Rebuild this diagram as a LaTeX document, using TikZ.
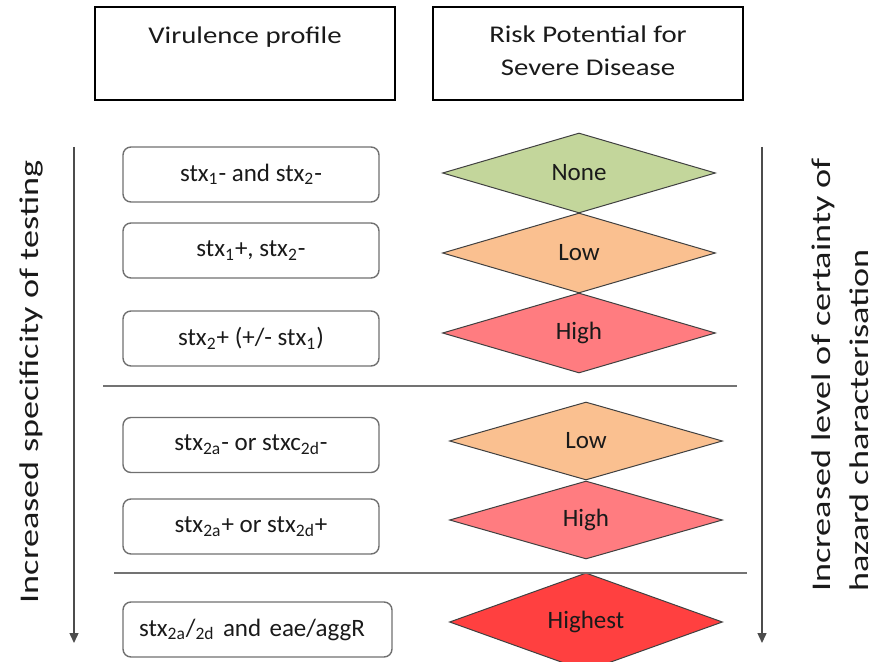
\documentclass[tikz,border=0pt]{standalone}
\usepackage{fontspec}
\setmainfont{Carlito}
\newfontfamily\hdrfont[FakeStretch=1.2]{Carlito}
\newfontfamily\sidefont[FakeStretch=1.34]{Carlito}
\usetikzlibrary{arrows.meta,shapes.geometric}
\definecolor{NoneGreen}{HTML}{C3D69B}
\definecolor{LowOrange}{HTML}{FAC090}
\definecolor{HighPink}{HTML}{FF7C80}
\definecolor{TopRed}{HTML}{FF4040}
\definecolor{EdgeGrey}{HTML}{707070}
\definecolor{TextDark}{HTML}{1A1A1A}

\begin{document}
\begin{tikzpicture}[x=0.5pt,y=-0.5pt,
    every node/.style={align=center,text=TextDark},
    hdrbox/.style={draw=black,line width=1pt,minimum height=46.5pt,inner sep=0pt},
    hdrtext/.style={font=\hdrfont\fontsize{12}{16.5}\selectfont,inner sep=0pt},
    profbox/.style={draw=EdgeGrey,line width=0.7pt,rounded corners=4pt,minimum width=128pt,minimum height=27.5pt,font=\fontsize{12.5}{15}\selectfont},
    risk/.style={diamond,draw=black!75,line width=0.5pt,inner sep=0pt,minimum width=136.5pt,minimum height=40pt,font=\fontsize{12.5}{15}\selectfont},
    sidetext/.style={font=\sidefont\fontsize{13.5}{19}\selectfont,rotate=90,inner sep=0pt},
    sidearrow/.style={draw=black!70,line width=0.7pt,-{Triangle[length=5pt,width=4.5pt]}},
    sepline/.style={draw=black!55,line width=1pt}]
  \useasboundingbox (0,0) rectangle (877,662);

  \node[hdrbox,minimum width=150pt] (hvir) at (245,53.5) {};
  \node[hdrbox,minimum width=155pt] (hrisk) at (588,53.5) {};
  \node[hdrtext] (tvir) at (245,37.6) {Virulence profile};
  \node[hdrtext] (trisk) at (588,51) {Risk Potential for\\Severe Disease};

  \node[profbox] (p1) at (251,174.5) {stx\textsubscript{1}- and stx\textsubscript{2}-};
  \node[profbox] (p2) at (251,250.5) {stx\textsubscript{1}+, stx\textsubscript{2}-};
  \node[profbox] (p3) at (251,338.5) {stx\textsubscript{2}+ (+/- stx\textsubscript{1})};
  \node[profbox] (p4) at (251,445) {stx\textsubscript{2a}- or stxc\textsubscript{2d}-};
  \node[profbox] (p5) at (251,526.5) {stx\textsubscript{2a}+ or stx\textsubscript{2d}+};
  \node[profbox,minimum width=134.5pt,text width=118.5pt,inner xsep=8pt,align=left] (p6) at (257.5,629.5) {stx\textsubscript{2a}/\textsubscript{2d} and eae/aggR};

  \node[risk,fill=NoneGreen] (r1) at (579,173) {None};
  \node[risk,fill=LowOrange] (r2) at (579,253) {Low};
  \node[risk,fill=HighPink] (r3) at (579,333) {High};
  \node[risk,fill=LowOrange,minimum height=39pt] (r4) at (586,441) {Low};
  \node[risk,fill=HighPink,minimum height=39pt] (r5) at (586,520) {High};
  \node[risk,fill=TopRed,minimum height=39pt] (r6) at (586,622) {Highest};

  \draw[sepline] (103,386) -- (737,386);
  \draw[sepline] (114,573) -- (747,573);

  \coordinate (ltop) at (74,147);
  \coordinate (lend) at (74,643);
  \coordinate (rtop) at (762,147);
  \coordinate (rend) at (762,643);
  \draw[sidearrow] (ltop) -- (lend);
  \draw[sidearrow] (rtop) -- (rend);

  \node[sidetext] (tleft) at (31,382) {Increased specificity of testing};
  \node[sidetext,align=left] (tright) at (840,375) {Increased level of certainty of\\hazard characterisation};
\end{tikzpicture}
\end{document}
